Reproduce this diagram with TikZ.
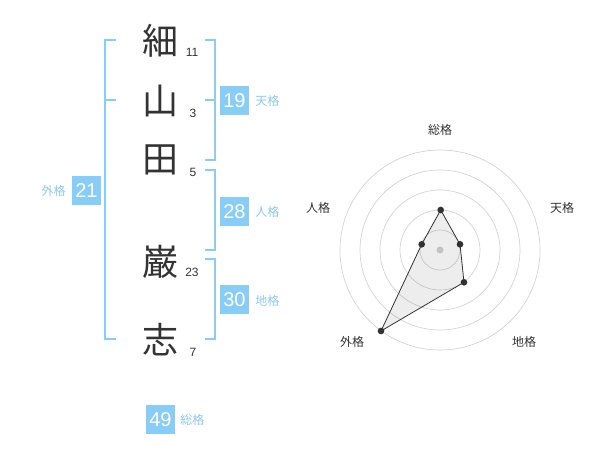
\documentclass[tikz,border=0pt]{standalone}
\usepackage{fontspec}
\setmainfont{Liberation Sans}
\newfontfamily\jp{Noto Sans CJK JP}
\definecolor{kblue}{RGB}{136,204,248}
\definecolor{klabel}{RGB}{140,200,240}
\definecolor{kdark}{RGB}{51,51,51}
\definecolor{kgrid}{RGB}{210,210,210}
\tikzset{
  kanji/.style={font=\jp\fontsize{27}{27}\selectfont, text=kdark, inner sep=0pt},
  stroke/.style={font=\fontsize{9}{9}\selectfont, text=kdark, inner sep=0pt},
  valbox/.style={fill=kblue, text=white, minimum width=21.75pt, minimum height=21.75pt, inner sep=0pt, font=\fontsize{15}{15}\selectfont},
  klab/.style={font=\jp\fontsize{9}{9}\selectfont, text=klabel, inner sep=0pt},
  brk/.style={draw=kblue, line width=1.5pt},
  rlab/.style={font=\jp\fontsize{9}{9}\selectfont, text=kdark, inner sep=0pt},
  ring/.style={draw=kgrid, line width=0.5pt},
  pt/.style={circle, fill=kdark, inner sep=0pt, minimum size=5pt}
}
\begin{document}
\begin{tikzpicture}[x=0.75pt, y=-0.75pt]
\useasboundingbox (0,0) rectangle (600,470);
% kanji
\node[kanji] (k1) at (160,41) {細};
\node[kanji] (k2) at (160,101) {山};
\node[kanji] (k3) at (160,160) {田};
\node[kanji] (k4) at (160,262) {巌};
\node[kanji] (k5) at (160,340) {志};
\node[stroke] (n1) at (192,52) {11};
\node[stroke] (n2) at (193,113) {3};
\node[stroke] (n3) at (193,172) {5};
\node[stroke] (n4) at (192,272) {23};
\node[stroke] (n5) at (193,352) {7};
% brackets
\draw[brk] (116,40) -- (105,40) -- (105,339) -- (116,339);
\draw[brk] (105,100) -- (116,100);
\draw[brk] (205,40) -- (215,40) -- (215,160) -- (205,160);
\draw[brk] (205,100) -- (215,100);
\draw[brk] (205,170) -- (215,170) -- (215,250) -- (205,250);
\draw[brk] (205,259) -- (215,259) -- (215,339) -- (205,339);
% values
\node[valbox] (b19) at (234.5,100.5) {19};
\node[klab, anchor=west] (l19) at (255,101) {天格};
\node[valbox] (b28) at (234.5,211.5) {28};
\node[klab, anchor=west] (l28) at (255,212) {人格};
\node[valbox] (b30) at (234.5,300) {30};
\node[klab, anchor=west] (l30) at (255,301) {地格};
\node[valbox] (b21) at (86.5,190.5) {21};
\node[klab, anchor=east] (l21) at (66,191) {外格};
\node[valbox] (b49) at (160.5,419.5) {49};
\node[klab, anchor=west] (l49) at (180,420) {総格};
% radar
\coordinate (c) at (440,250);
\foreach \r in {20,40,60,80,100} \draw[ring] (c) circle[radius=\r];
\fill[kgrid] (c) circle[radius=3.5];
\node[pt] (p1) at (440.7,210) {};
\node[pt] (p2) at (460,244.3) {};
\node[pt] (p3) at (464,282.3) {};
\node[pt] (p4) at (381,331) {};
\node[pt] (p5) at (421.7,244.3) {};
\fill[black, opacity=0.07] (p1.center) -- (p2.center) -- (p3.center) -- (p4.center) -- (p5.center) -- cycle;
\draw[kdark, line width=0.6pt] (p1.center) -- (p2.center) -- (p3.center) -- (p4.center) -- (p5.center) -- cycle;
\node[rlab] (r1) at (440,130) {総格};
\node[rlab] (r2) at (562,208) {天格};
\node[rlab] (r3) at (524,342) {地格};
\node[rlab] (r4) at (352,342) {外格};
\node[rlab] (r5) at (318,208) {人格};
\end{tikzpicture}
\end{document}
